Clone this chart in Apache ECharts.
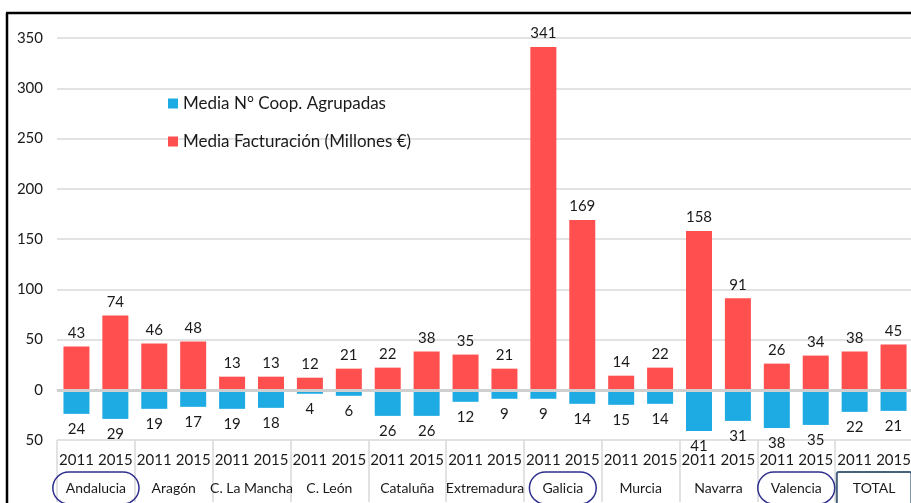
<!doctype html>
<html lang="es">
  <head>
    <meta charset="UTF-8" />
    <title>Cooperativas agrupadas</title>
    <script type="text/javascript" src="https://fastly.jsdelivr.net/npm/echarts@6/dist/echarts.min.js"></script>
    <style type="text/css">
      * {
        margin: 0;
        padding: 0;
      }
      html,
      body,
      #chart {
        width: 100%;
        height: 100%;
        overflow: hidden;
        background: #fff;
      }
    </style>
  </head>
  <body>
    <div id="chart"></div>
  </body>
  <script>
    const regions = ['Andalucia', 'Aragón', 'C. La Mancha', 'C. León', 'Cataluña', 'Extremadura', 'Galicia', 'Murcia', 'Navarra', 'Valencia', 'TOTAL'];
    const years = ['2011', '2015'];
    // media facturación (millones €), 2011 / 2015 per region
    const facturacion = [43, 74, 46, 48, 13, 13, 12, 21, 22, 38, 35, 21, 341, 169, 14, 22, 158, 91, 26, 34, 38, 45];
    // media nº cooperativas agrupadas, drawn below zero
    const coopAgrupadas = [24, 29, 19, 17, 19, 18, 4, 6, 26, 26, 12, 9, 9, 14, 15, 14, 41, 31, 38, 35, 22, 21];
    const circled = ['Andalucia', 'Galicia', 'Valencia'];
    const boxed = ['TOTAL'];

    const FONT = 'Lato';
    const categories = [];
    regions.forEach((r) => years.forEach((y) => categories.push(r + ' ' + y)));

    const option = {
      animation: false,
      textStyle: { fontFamily: FONT },
      graphic: [
        { type: 'line', shape: { x1: 6, y1: 13, x2: 911, y2: 13 }, style: { stroke: '#000', lineWidth: 2.5 } },
        { type: 'line', shape: { x1: 7, y1: 13, x2: 7, y2: 503 }, style: { stroke: '#000', lineWidth: 2.5 } },
      ],
      legend: {
        data: ['Media N° Coop. Agrupadas', 'Media Facturación (Millones €)'],
        orient: 'vertical',
        left: 163,
        top: 90,
        itemGap: 21,
        itemWidth: 10,
        itemHeight: 10,
        icon: 'rect',
        textStyle: { fontSize: 17, color: '#1a1a1a', fontFamily: FONT },
      },
      grid: { left: 57, right: -2, top: 38, bottom: 63, outerBoundsMode: 'none' },
      xAxis: [
        {
          type: 'category',
          data: categories,
          position: 'bottom',
          axisLine: { show: true, lineStyle: { color: '#D9D9D9', width: 1.5 } },
          axisTick: { show: false },
          axisLabel: {
            interval: 0,
            margin: 13,
            fontSize: 15,
            color: '#1a1a1a',
            formatter: (v) => v.split(' ').pop(),
          },
        },
        {
          type: 'category',
          data: regions,
          position: 'bottom',
          axisLine: { show: false },
          axisTick: { show: true, length: 62, lineStyle: { color: '#D9D9D9', width: 1.5 } },
          axisLabel: {
            interval: 0,
            margin: 32,
            fontSize: 14,
            color: '#1a1a1a',
            formatter: (v) => {
              if (circled.indexOf(v) >= 0) return '{ell|' + v + '}';
              if (boxed.indexOf(v) >= 0) return '{box|' + v + '}';
              return '{txt|' + v + '}';
            },
            rich: {
              txt: { fontSize: 14, padding: [9, 0], color: '#1a1a1a', fontFamily: FONT },
              ell: {
                fontSize: 14,
                color: '#1a1a1a',
                fontFamily: FONT,
                padding: [9, 13],
                borderColor: '#2E2F8C',
                borderWidth: 1.5,
                borderRadius: 17,
              },
              box: {
                fontSize: 14,
                color: '#1a1a1a',
                fontFamily: FONT,
                padding: [9, 16, 14, 16],
                borderColor: '#46627F',
                borderWidth: 2,
                borderRadius: 2,
              },
            },
          },
        },
      ],
      yAxis: {
        type: 'value',
        min: -50,
        max: 350,
        interval: 50,
        axisLine: { show: false },
        axisTick: { show: false },
        axisLabel: {
          margin: 14,
          fontSize: 15,
          color: '#1a1a1a',
          formatter: (v) => Math.abs(v),
        },
        splitLine: { lineStyle: { color: '#D9D9D9', width: 1.5 } },
      },
      series: [
        {
          name: 'Media Facturación (Millones €)',
          type: 'bar',
          stack: 'total',
          barWidth: 26,
          data: facturacion,
          itemStyle: { color: '#FF4F4F' },
          label: {
            show: true,
            position: 'top',
            distance: 6,
            fontSize: 15,
            color: '#1a1a1a',
          },
          markLine: {
            silent: true,
            symbol: 'none',
            label: { show: false },
            lineStyle: { color: '#CFCFCF', width: 3, type: 'solid' },
            data: [{ yAxis: 0 }],
          },
        },
        {
          name: 'Media N° Coop. Agrupadas',
          type: 'bar',
          stack: 'total',
          barWidth: 26,
          data: coopAgrupadas.map((v) => -v),
          itemStyle: { color: '#1EABE3' },
          label: {
            show: true,
            position: 'bottom',
            distance: 8,
            fontSize: 15,
            color: '#1a1a1a',
            formatter: (p) => Math.abs(p.value),
          },
        },
      ],
    };

    const chart = echarts.init(document.getElementById('chart'));
    chart.setOption(option);
  </script>
</html>
